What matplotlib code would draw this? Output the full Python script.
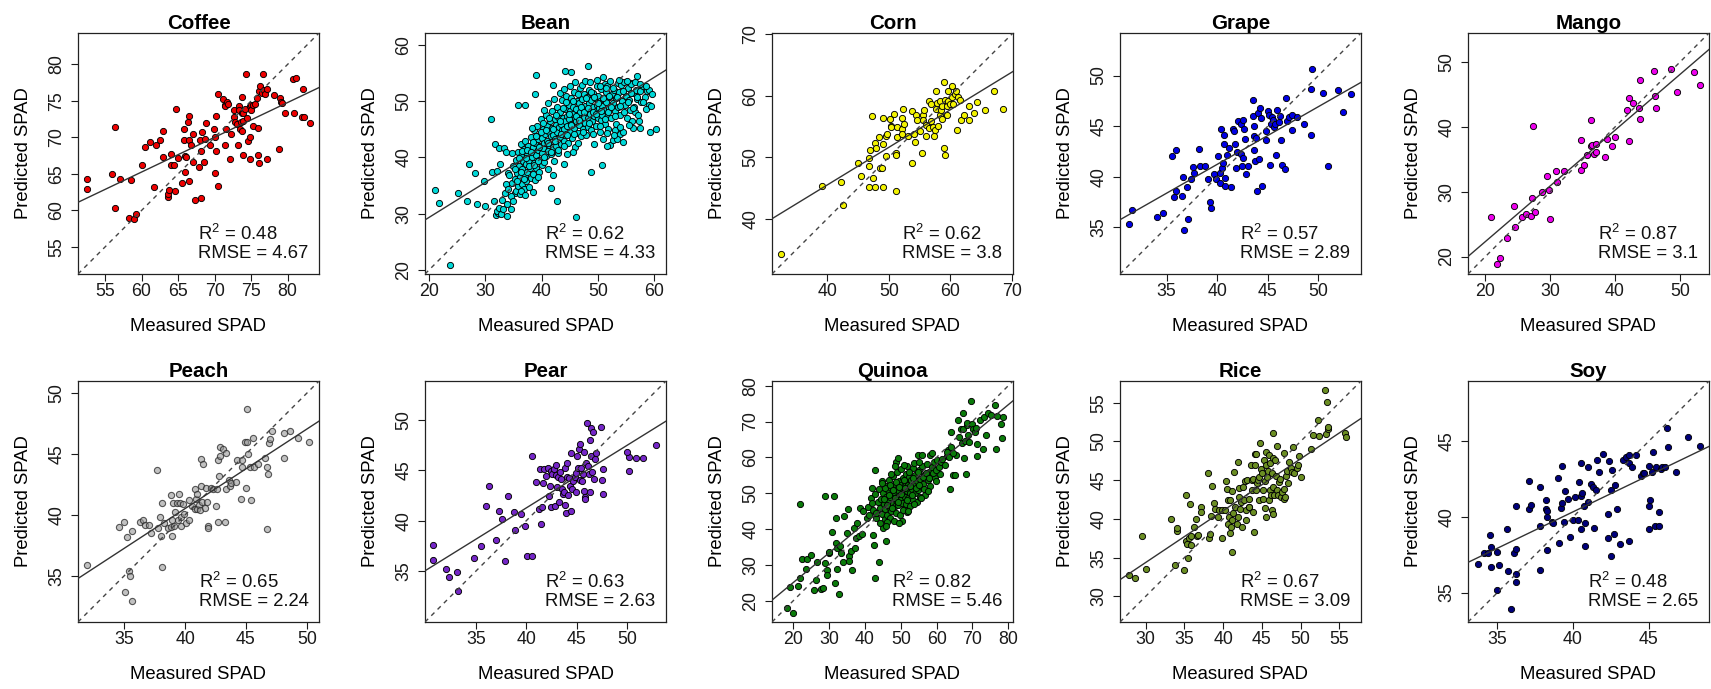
import numpy as np
import matplotlib.pyplot as plt

plt.rcParams['font.family'] = ['Liberation Sans', 'DejaVu Sans']
plt.rcParams['mathtext.fontset'] = 'custom'
plt.rcParams['mathtext.rm'] = 'Liberation Sans'
plt.rcParams['mathtext.it'] = 'Liberation Sans:italic'

# --- data (measured, predicted) ---
crops = ['Coffee', 'Bean', 'Corn', 'Grape', 'Mango',
         'Peach', 'Pear', 'Quinoa', 'Rice', 'Soy']

coffee_pts = [
    (52.5, 64.3), (52.6, 63.0), (55.9, 65.0), (56.4, 71.4), (56.4, 60.3), (57.0, 64.3), (58.3, 59.0),
    (58.6, 64.2), (59.0, 58.8), (59.3, 59.5), (60.0, 66.2), (60.5, 68.7), (61.2, 69.4), (61.7, 63.2),
    (62.0, 68.9), (62.5, 69.7), (62.9, 67.3), (63.0, 70.9), (63.6, 61.8), (63.6, 62.3), (63.7, 62.8),
    (64.0, 67.7), (64.1, 66.2), (64.4, 66.2), (64.6, 62.6), (64.7, 73.9), (65.0, 67.2), (65.5, 63.8),
    (65.8, 71.2), (65.8, 69.7), (66.0, 67.5), (66.0, 65.2), (66.1, 67.3), (66.4, 72.1), (66.5, 72.9),
    (66.5, 69.6), (66.5, 64.0), (66.8, 68.9), (67.0, 70.5), (67.1, 66.7), (67.3, 61.4), (67.8, 65.9),
    (68.0, 69.7), (68.1, 61.7), (68.1, 68.1), (68.3, 70.7), (68.5, 66.6), (68.7, 69.8), (68.8, 72.0),
    (69.4, 69.0), (69.9, 71.2), (70.0, 65.1), (70.1, 70.1), (70.2, 68.1), (70.2, 72.9), (70.5, 63.3),
    (70.5, 76.0), (71.1, 75.3), (71.4, 74.5), (71.4, 74.3), (71.4, 69.0), (71.6, 71.2), (71.7, 74.8),
    (71.9, 74.6), (72.1, 67.0), (72.2, 70.5), (72.6, 73.8), (72.7, 72.8), (72.8, 72.1), (73.1, 71.9),
    (73.2, 69.0), (73.3, 74.3), (73.3, 73.8), (73.5, 71.1), (73.6, 72.1), (73.7, 70.9), (73.7, 73.3),
    (73.8, 75.5), (73.9, 67.6), (73.9, 73.3), (73.9, 72.2), (74.2, 73.9), (74.3, 78.7), (74.4, 72.7),
    (74.6, 69.5), (74.8, 67.0), (74.9, 74.3), (74.9, 70.1), (75.0, 74.5), (75.0, 73.8), (75.2, 71.5),
    (75.3, 74.5), (75.6, 74.6), (75.8, 75.4), (75.9, 71.3), (76.0, 67.6), (76.1, 76.3), (76.1, 66.5),
    (76.2, 77.1), (76.5, 76.1), (76.7, 78.7), (76.8, 76.5), (76.9, 76.0), (77.2, 76.6), (77.2, 67.1),
    (78.1, 75.8), (78.8, 68.4), (78.9, 75.4), (79.1, 74.9), (79.2, 74.7), (79.7, 73.4), (80.8, 78.0),
    (80.9, 73.3), (81.1, 78.1), (82.0, 72.8), (82.1, 76.7), (82.3, 72.8), (83.0, 72.0)]

bean_pts = [
    (21.1, 34.2), (21.7, 31.9), (23.7, 20.9), (25.2, 33.6), (26.8, 32.3), (27.1, 38.8), (28.1, 37.3),
    (28.6, 31.8), (29.8, 35.8), (30.0, 31.3), (31.1, 46.9), (31.2, 37.5), (31.6, 32.3), (31.7, 42.3),
    (32.0, 37.6), (32.4, 41.7), (32.6, 38.9), (33.3, 41.6), (33.7, 40.9), (34.0, 37.3), (34.7, 40.7),
    (35.2, 33.7), (35.9, 49.3), (37.1, 49.3), (38.4, 33.9), (38.9, 51.2), (39.1, 54.7), (41.7, 34.5),
    (42.1, 52.8), (42.8, 32.3), (44.1, 55.4), (45.3, 55.2), (46.1, 29.5), (48.2, 56.3), (48.8, 37.5),
    (50.8, 38.7), (60.3, 45.0), (59.3, 44.5), (59.1, 49.3), (58.7, 51.8), (57.5, 45.3), (56.2, 45.3),
    (56.6, 48.0), (57.0, 54.4), (55.8, 53.3), (54.4, 42.8), (54.0, 44.2), (53.0, 44.9), (52.2, 42.2),
    (52.6, 43.1), (51.7, 42.0), (53.4, 43.3), (31.9, 29.7), (32.3, 30.2), (32.7, 30.7),
    (32.1, 30.5), (32.4, 31.0), (32.8, 29.9), (33.0, 32.5), (33.2, 30.8), (33.5, 33.6), (33.6, 35.2),
    (33.9, 31.8), (34.1, 34.4), (34.3, 36.8), (34.5, 33.1), (34.7, 35.5), (34.9, 38.5), (35.0, 32.2),
    (35.2, 36.1), (35.4, 34.0), (35.5, 39.6), (35.7, 37.2), (35.8, 35.0), (35.9, 41.0), (36.0, 38.4),
    (36.1, 33.5), (36.2, 36.6), (36.3, 40.2), (36.4, 42.4), (36.5, 35.2), (36.6, 38.0), (36.7, 39.4),
    (36.8, 34.4), (36.9, 41.5), (37.0, 36.9), (37.1, 43.0), (37.2, 38.8), (37.3, 35.8), (37.4, 40.5),
    (37.5, 37.5), (37.6, 42.0), (37.7, 39.3), (37.8, 34.8), (37.9, 41.2), (38.0, 38.1), (38.1, 36.4),
    (38.2, 43.6), (38.3, 40.0), (38.4, 37.0), (38.5, 41.8), (38.6, 39.0), (38.7, 44.8), (38.8, 36.0),
    (38.9, 42.6), (39.0, 40.4), (39.1, 38.2), (39.2, 45.6), (39.3, 41.4), (39.4, 43.2), (39.5, 37.4),
    (39.6, 39.6), (39.7, 44.0), (39.8, 42.0), (39.9, 46.8), (40.0, 40.8), (40.0, 38.6),
    (40.1, 43.4), (40.2, 41.6), (40.3, 45.0), (40.4, 39.2), (40.5, 42.6), (40.6, 44.2), (40.7, 47.6),
    (40.8, 40.2), (40.9, 43.0), (41.0, 45.6), (41.1, 41.2), (41.2, 38.0), (41.3, 44.6), (41.4, 42.2),
    (41.5, 46.4), (41.6, 40.6), (41.7, 43.8), (41.8, 48.2), (41.9, 45.2), (42.0, 41.8), (42.1, 44.0),
    (42.2, 39.4), (42.3, 46.8), (42.4, 43.2), (42.5, 45.8), (42.6, 42.0), (42.7, 49.0), (42.8, 44.6),
    (42.9, 47.2), (43.0, 40.8), (43.1, 45.4), (43.2, 43.6), (43.3, 48.0), (43.4, 46.0), (43.5, 42.4),
    (43.6, 44.8), (43.7, 50.2), (43.8, 47.0), (43.9, 45.0), (44.0, 38.8), (44.0, 43.0),
    (44.1, 46.4), (44.2, 48.6), (44.3, 44.2), (44.4, 51.0), (44.5, 47.4), (44.6, 45.6), (44.7, 42.6),
    (44.8, 49.4), (44.9, 46.8), (45.0, 44.6), (45.1, 48.2), (45.2, 50.6), (45.3, 46.0), (45.4, 43.4),
    (45.5, 47.8), (45.6, 49.0), (45.7, 45.2), (45.8, 51.6), (45.9, 47.0), (46.0, 41.8), (46.1, 48.6),
    (46.2, 46.4), (46.3, 50.0), (46.4, 44.4), (46.5, 47.6), (46.6, 49.6), (46.7, 45.8), (46.8, 52.4),
    (46.9, 48.0), (47.0, 43.8), (47.1, 46.8), (47.2, 50.4), (47.3, 48.8), (47.4, 45.0), (47.5, 47.2),
    (47.6, 51.2), (47.7, 49.2), (47.8, 46.2), (47.9, 44.0), (48.0, 48.4),
    (48.1, 50.8), (48.2, 47.0), (48.3, 45.4), (48.4, 49.6), (48.5, 52.0), (48.6, 47.8), (48.7, 44.8),
    (48.8, 50.2), (48.9, 48.6), (49.0, 46.4), (49.1, 51.4), (49.2, 49.0), (49.3, 42.4), (49.4, 47.4),
    (49.5, 50.6), (49.6, 48.2), (49.7, 45.6), (49.8, 52.6), (49.9, 49.4), (50.0, 47.0), (50.1, 51.0),
    (50.2, 48.8), (50.3, 44.6), (50.4, 50.0), (50.5, 46.6), (50.6, 52.2), (50.7, 49.2), (50.8, 47.6),
    (50.9, 43.2), (51.0, 50.4), (51.1, 48.4), (51.2, 53.0), (51.3, 46.0), (51.4, 51.6), (51.5, 49.8),
    (51.6, 47.2), (51.7, 52.6), (51.8, 45.0), (51.9, 50.8), (52.0, 48.8),
    (52.2, 53.6), (52.3, 47.0), (52.5, 51.2), (52.6, 49.6), (52.8, 44.0), (52.9, 52.0), (53.0, 48.2),
    (53.2, 50.6), (53.3, 46.0), (53.5, 53.2), (53.6, 49.0), (53.8, 51.6), (54.0, 47.6), (54.1, 52.8),
    (54.3, 50.0), (54.5, 44.6), (54.6, 53.4), (54.8, 49.4), (55.0, 51.0), (55.1, 47.0), (55.3, 52.4),
    (55.5, 50.2), (55.7, 48.4), (55.9, 53.0), (56.1, 46.4), (56.3, 51.4), (56.5, 49.0), (56.7, 52.0),
    (56.9, 50.4), (57.2, 47.6), (57.4, 51.8), (57.7, 49.8), (58.0, 52.6), (58.3, 50.8), (58.6, 48.6),
    (59.0, 52.0), (59.4, 49.2), (59.7, 51.2),
    (35.3, 37.9), (35.6, 35.8), (36.0, 39.9), (36.3, 37.4), (36.6, 41.1), (36.9, 36.2), (37.2, 39.9),
    (37.5, 41.4), (37.8, 38.4), (38.1, 40.9), (38.4, 42.8), (38.7, 38.6), (39.0, 43.8), (39.3, 39.4),
    (39.6, 41.8), (39.9, 44.6), (36.4, 34.0), (37.0, 33.4), (34.6, 30.9), (33.8, 29.6), (38.3, 45.2),
    (39.4, 36.6), (40.2, 46.2), (40.5, 40.0), (40.8, 44.8), (41.1, 42.6), (41.4, 47.0), (41.7, 41.0),
    (42.0, 45.0), (42.3, 43.0), (42.6, 47.6), (42.9, 41.4), (43.2, 46.4), (43.5, 44.2), (43.8, 48.8),
    (44.0, 42.0), (40.4, 48.4), (41.2, 49.6), (42.2, 50.4), (43.3, 51.4), (43.9, 52.2), (42.0, 36.8),
    (44.3, 49.8), (44.6, 44.0), (44.9, 47.8), (45.2, 45.8), (45.5, 50.0), (45.8, 44.2), (46.1, 47.4),
    (46.4, 51.2), (46.7, 46.6), (47.0, 49.0), (47.3, 44.6), (47.6, 48.0), (47.9, 50.6), (45.0, 52.6),
    (46.0, 53.4), (47.2, 52.8), (44.5, 40.6), (46.5, 42.6), (47.7, 53.6), (45.6, 41.0),
    (48.2, 48.8), (48.5, 46.2), (48.8, 51.6), (49.1, 48.0), (49.4, 50.8), (49.7, 47.8), (50.0, 49.6),
    (50.3, 52.6), (50.6, 48.2), (50.9, 50.6), (51.2, 46.8), (51.5, 52.4), (51.8, 48.0), (48.6, 53.4),
    (49.8, 53.8), (51.0, 54.2), (49.2, 44.2), (50.4, 45.6), (51.6, 44.4), (52.0, 51.0),
    (52.4, 49.0), (52.7, 52.4), (53.1, 47.4), (53.4, 50.8), (53.7, 53.8), (54.0, 49.2), (54.4, 51.8),
    (54.7, 48.0), (55.1, 53.6), (55.4, 49.8), (55.8, 51.4), (56.2, 48.8), (56.6, 53.4), (57.0, 50.8),
    (57.5, 53.0), (58.0, 49.8), (58.5, 52.6), (53.9, 45.4), (55.6, 45.8), (57.3, 46.4)]

corn_pts = [
    (32.5, 34.2), (39.2, 45.3), (42.2, 45.9), (42.6, 42.3), (45.0, 49.1), (45.4, 47.0), (46.8, 48.5),
    (46.8, 49.9), (46.8, 45.1), (46.9, 51.2), (47.2, 56.7), (47.5, 46.6), (47.7, 52.3), (47.8, 45.1),
    (47.9, 51.5), (48.4, 53.3), (48.6, 48.2), (48.9, 48.2), (49.1, 56.4), (49.1, 52.2), (49.1, 45.2),
    (49.5, 50.2), (49.6, 53.4), (49.7, 53.7), (50.2, 56.2), (50.3, 55.1), (50.4, 54.9), (50.9, 57.1),
    (51.1, 50.7), (51.1, 50.3), (51.2, 44.5), (51.3, 53.3), (51.4, 54.9), (52.1, 56.4), (52.2, 54.6),
    (52.2, 53.8), (52.3, 57.8), (52.4, 55.4), (53.2, 53.4), (53.7, 57.5), (53.8, 49.1), (54.1, 53.8),
    (54.3, 52.4), (54.5, 56.8), (54.6, 56.1), (55.1, 54.2), (55.4, 50.7), (55.5, 56.8), (55.6, 56.0),
    (55.7, 57.6), (56.0, 53.4), (56.1, 55.2), (56.5, 59.2), (56.6, 54.8), (56.8, 58.7), (56.9, 55.9),
    (57.2, 54.9), (57.3, 53.4), (57.5, 54.4), (57.6, 57.9), (57.7, 60.7), (57.8, 58.8), (58.0, 55.0),
    (58.3, 56.8), (58.4, 59.1), (58.5, 57.6), (58.6, 56.2), (58.7, 58.3), (58.9, 62.2), (58.9, 51.5),
    (59.1, 59.3), (59.2, 50.3), (59.4, 58.3), (59.5, 56.8), (59.6, 59.1), (59.7, 60.7), (59.9, 58.7),
    (60.2, 59.8), (60.3, 61.5), (60.5, 58.6), (60.7, 60.3), (60.9, 60.8), (61.1, 54.5), (61.2, 59.8),
    (61.5, 59.3), (61.7, 56.1), (62.3, 56.9), (63.0, 58.3), (63.1, 56.1), (63.8, 57.2), (64.3, 59.0),
    (65.6, 57.7), (67.1, 60.8), (68.6, 57.8)]

grape_pts = [
    (31.3, 35.3), (31.6, 36.7), (34.1, 36.0), (34.6, 36.4), (35.5, 42.1), (35.9, 42.6), (35.7, 38.0),
    (35.9, 38.6), (36.5, 38.1), (36.6, 40.0), (36.7, 34.7), (37.0, 39.0), (37.1, 35.8), (37.4, 39.8),
    (37.6, 41.0), (37.7, 40.4), (38.2, 42.7), (38.3, 41.1), (38.8, 41.1), (39.1, 39.8), (39.3, 37.5),
    (39.4, 36.9), (39.7, 40.3), (39.9, 39.8), (40.1, 42.1), (40.3, 39.4), (40.3, 40.4), (40.4, 44.7),
    (40.5, 40.9), (40.6, 41.4), (40.7, 43.2), (40.7, 44.1), (40.8, 39.9), (40.8, 39.1), (41.0, 42.2),
    (41.2, 42.8), (41.4, 39.0), (41.6, 44.7), (41.7, 44.5), (41.8, 43.2), (41.9, 40.9), (42.0, 42.4),
    (42.1, 45.5), (42.3, 42.3), (42.3, 45.2), (42.4, 41.1), (42.5, 41.9), (42.5, 45.6), (42.6, 44.7),
    (42.7, 43.7), (42.8, 40.3), (43.0, 41.1), (43.5, 47.6), (43.5, 46.0), (43.6, 44.0), (43.6, 45.0),
    (43.6, 42.6), (43.7, 41.6), (43.8, 43.8), (43.9, 38.6), (44.0, 46.3), (44.1, 41.8), (44.2, 46.8),
    (44.3, 45.8), (44.4, 39.1), (44.8, 43.6), (44.8, 44.5), (45.0, 46.5), (45.1, 46.1), (45.2, 41.2),
    (45.3, 45.2), (45.4, 45.9), (45.5, 45.6), (45.6, 44.9), (45.7, 45.2), (45.8, 42.2), (45.9, 46.6),
    (46.1, 45.4), (46.2, 46.0), (46.3, 43.6), (46.4, 41.2), (46.7, 40.8), (46.8, 47.8), (46.9, 45.5),
    (47.1, 45.9), (47.4, 44.6), (47.4, 46.1), (47.9, 45.9), (48.6, 45.2), (49.3, 48.7), (49.3, 44.1),
    (49.4, 50.6), (50.4, 48.3), (50.9, 41.1), (51.9, 48.6), (52.4, 46.4), (53.2, 48.2)]

mango_pts = [
    (20.8, 26.1), (21.7, 18.8), (22.3, 19.8), (23.3, 22.9), (24.4, 27.8), (24.6, 24.5), (25.6, 26.1),
    (26.3, 26.6), (27.1, 26.3), (27.2, 29.1), (27.3, 40.1), (27.6, 26.9), (28.7, 30.0), (29.5, 32.5),
    (29.8, 30.3), (29.9, 25.8), (30.9, 33.2), (31.1, 31.5), (32.1, 33.2), (34.8, 38.0), (34.8, 33.3),
    (35.2, 34.2), (35.6, 35.6), (36.3, 41.1), (36.3, 37.1), (36.5, 37.2), (36.7, 35.9), (37.1, 37.4),
    (37.1, 36.2), (38.4, 35.3), (38.7, 38.2), (39.5, 37.0), (40.0, 38.4), (41.9, 42.6), (42.1, 44.4),
    (42.1, 37.8), (42.7, 43.7), (43.7, 42.9), (43.8, 47.3), (43.9, 41.2), (46.0, 48.6), (46.1, 44.8),
    (46.3, 43.0), (48.7, 49.0), (49.6, 45.4), (52.2, 48.5), (53.1, 46.4)]

peach_pts = [
    (31.9, 35.9), (34.6, 39.0), (35.0, 39.4), (35.1, 33.7), (35.2, 38.2), (35.4, 35.4), (35.5, 35.0),
    (35.6, 32.9), (35.6, 38.7), (36.3, 39.4), (36.5, 39.6), (36.7, 39.2), (37.0, 39.2), (37.2, 38.5),
    (37.7, 43.7), (37.8, 38.9), (37.9, 39.8), (38.0, 38.3), (38.1, 35.7), (38.1, 41.0), (38.3, 39.3),
    (38.6, 38.9), (38.8, 39.0), (38.8, 41.6), (38.9, 39.6), (38.9, 38.3), (39.0, 41.0), (39.1, 39.1),
    (39.2, 40.2), (39.3, 41.0), (39.4, 39.6), (39.5, 41.7), (39.6, 41.0), (39.7, 39.8), (39.7, 39.1),
    (39.8, 40.9), (39.9, 40.1), (40.1, 39.3), (40.3, 39.6), (40.3, 41.2), (40.6, 40.7), (40.8, 40.5),
    (40.8, 42.1), (40.9, 41.3), (41.0, 41.7), (41.0, 40.5), (41.1, 40.8), (41.2, 40.4), (41.3, 42.4),
    (41.3, 44.6), (41.4, 41.1), (41.5, 44.2), (41.6, 40.6), (41.7, 42.2), (41.8, 41.1), (41.9, 39.1),
    (41.9, 38.9), (42.1, 42.2), (42.3, 42.1), (42.5, 40.7), (42.6, 42.1), (42.7, 44.5), (42.7, 39.4),
    (42.8, 43.2), (42.9, 44.8), (42.9, 45.6), (43.1, 45.4), (43.3, 39.4), (43.4, 42.1), (43.4, 45.1),
    (43.6, 42.9), (43.7, 42.4), (43.8, 42.6), (44.2, 42.7), (44.3, 44.5), (44.6, 41.3), (44.7, 44.5),
    (44.7, 43.9), (44.9, 46.0), (45.0, 42.2), (45.1, 46.0), (45.1, 48.7), (45.2, 45.0), (45.3, 43.9),
    (45.4, 41.2), (45.6, 46.3), (45.7, 43.9), (46.0, 44.2), (46.6, 44.7), (46.7, 38.8), (46.7, 43.9),
    (46.8, 43.4), (46.9, 45.9), (47.0, 46.2), (47.1, 46.9), (48.1, 46.7), (48.1, 44.7), (48.6, 46.9),
    (49.3, 46.3), (50.2, 46.0)]

pear_pts = [
    (30.7, 37.6), (30.7, 36.1), (32.0, 35.2), (32.3, 34.4), (33.1, 34.9), (33.2, 33.0), (34.8, 36.3),
    (35.5, 37.5), (36.0, 41.5), (36.3, 43.4), (37.0, 38.1), (37.3, 41.0), (37.6, 40.2), (37.9, 36.0),
    (38.2, 42.4), (38.8, 40.9), (38.9, 39.1), (39.5, 40.7), (39.9, 39.5), (40.1, 36.5), (40.6, 36.5),
    (40.6, 46.4), (41.0, 43.8), (41.3, 41.2), (41.4, 45.1), (41.5, 39.7), (41.6, 41.4), (41.7, 43.7),
    (41.8, 45.1), (41.9, 44.4), (42.1, 45.2), (42.2, 42.4), (42.3, 43.4), (42.4, 41.4), (42.4, 44.9),
    (42.5, 44.6), (42.7, 45.1), (42.8, 41.5), (42.9, 44.5), (42.9, 45.5), (43.0, 43.3), (43.1, 44.3),
    (43.2, 41.9), (43.3, 44.8), (43.4, 44.1), (43.5, 43.1), (43.6, 42.6), (43.7, 42.8), (43.8, 45.2),
    (43.8, 41.6), (43.9, 40.8), (44.0, 45.7), (44.0, 44.3), (44.1, 42.5), (44.2, 44.2), (44.3, 43.4),
    (44.4, 46.7), (44.4, 41.0), (44.5, 43.1), (44.6, 43.9), (44.8, 44.3), (44.9, 42.8), (44.9, 44.7),
    (45.0, 46.4), (45.1, 45.2), (45.2, 47.1), (45.3, 44.0), (45.3, 47.6), (45.4, 45.2), (45.5, 43.9),
    (45.6, 44.6), (45.7, 46.8), (45.7, 42.9), (45.8, 42.3), (45.8, 42.1), (45.9, 45.7), (46.0, 49.7),
    (46.1, 45.4), (46.2, 44.6), (46.3, 48.0), (46.3, 42.8), (46.4, 49.2), (46.4, 46.4), (46.5, 44.8),
    (46.6, 48.8), (46.7, 44.1), (46.8, 46.1), (46.9, 46.7), (47.4, 49.3), (47.5, 44.0), (47.6, 42.6),
    (47.6, 45.1), (50.2, 46.3), (50.2, 44.9), (50.0, 46.8), (50.9, 46.2), (51.6, 46.2), (52.9, 47.5)]

quinoa_pts = [
    (18.3, 18.0), (20.0, 16.6), (19.1, 23.9), (21.4, 24.2), (21.9, 47.1), (22.0, 26.5), (22.4, 31.8),
    (23.9, 31.8), (23.5, 28.8), (24.9, 32.8), (25.8, 23.0), (26.5, 25.8), (26.7, 30.9), (27.9, 23.2),
    (28.4, 23.5), (28.8, 49.3), (28.8, 30.5), (29.3, 28.6), (29.5, 27.1), (29.9, 33.3), (30.0, 33.5),
    (30.9, 39.3), (31.3, 49.2), (31.6, 25.0), (31.9, 36.1), (31.9, 43.1), (32.1, 28.8), (32.3, 34.6),
    (32.8, 21.9), (33.2, 35.3), (33.3, 33.3), (33.8, 30.9), (34.1, 43.7), (34.9, 38.9), (35.3, 45.6),
    (35.6, 32.5), (35.6, 31.2), (36.0, 34.0), (36.3, 28.6), (36.9, 40.2), (37.2, 34.7), (37.5, 37.5),
    (37.9, 41.7), (38.4, 38.1), (38.6, 45.9), (39.1, 38.7), (39.5, 45.0), (40.5, 43.1), (41.6, 48.7),
    (41.9, 51.5), (42.3, 38.4), (42.5, 35.6), (42.8, 56.4), (42.8, 26.3), (43.3, 44.5), (44.0, 30.7),
    (44.7, 53.4), (45.0, 40.3), (46.0, 36.7), (48.8, 58.7), (49.3, 59.9), (50.4, 42.4), (51.8, 57.6),
    (54.9, 60.8), (56.0, 60.8), (58.1, 60.6), (58.6, 61.3), (59.5, 54.3), (59.7, 53.4), (60.9, 55.5),
    (62.8, 60.4), (63.3, 62.1), (63.7, 51.3), (64.0, 67.1), (64.5, 55.0), (65.1, 55.0), (65.4, 60.6),
    (66.0, 70.4), (66.3, 65.8), (66.7, 68.0), (67.0, 64.1), (67.3, 72.5), (67.4, 68.0), (67.7, 59.9),
    (67.9, 64.6), (68.2, 55.5), (68.4, 69.0), (68.6, 69.7), (68.8, 66.2), (69.1, 64.3), (69.5, 75.8),
    (69.8, 69.3), (70.2, 68.0), (70.7, 67.1), (71.0, 68.3), (71.2, 63.6), (71.2, 60.4), (72.1, 70.4),
    (72.8, 62.2), (73.3, 71.4), (73.7, 66.2), (74.4, 72.5), (75.3, 71.8), (76.3, 74.6), (76.6, 62.2),
    (76.9, 71.6), (77.9, 69.3), (78.1, 65.5), (78.6, 71.4),
    (40.8, 46.2), (41.2, 44.0), (41.9, 47.4), (42.4, 45.2), (42.8, 49.8), (43.2, 43.0), (43.6, 47.6),
    (44.0, 51.2), (43.0, 44.4), (44.3, 41.6),
    (44.2, 46.0), (44.6, 48.5), (44.9, 44.2), (45.1, 50.2), (45.3, 47.1), (45.5, 42.8), (45.7, 45.6),
    (45.9, 52.0), (46.0, 49.0), (46.2, 44.0), (46.4, 47.8), (46.5, 50.8), (46.7, 46.2), (46.8, 53.6),
    (47.0, 43.2), (47.1, 48.9), (47.3, 51.6), (47.4, 45.0), (47.6, 49.8), (47.7, 47.0), (47.9, 54.8),
    (48.0, 42.2), (48.1, 50.4), (48.3, 46.4), (48.4, 52.6), (48.6, 48.0), (48.7, 44.6), (48.9, 51.2),
    (49.0, 55.9), (49.1, 49.2), (49.3, 46.8), (49.4, 53.4), (49.6, 50.6), (49.7, 43.8), (49.9, 48.2),
    (50.0, 52.2), (50.2, 56.8), (50.3, 47.4), (50.5, 50.0), (50.6, 54.2), (50.8, 45.6), (50.9, 51.8),
    (51.1, 49.0), (51.2, 53.0), (51.4, 47.0), (51.5, 55.4), (51.7, 50.6), (51.8, 44.8), (52.0, 52.4),
    (52.1, 48.6), (52.3, 54.6), (52.5, 50.2), (52.7, 46.4), (52.9, 53.6), (53.1, 51.2), (53.3, 57.0),
    (53.5, 48.2), (53.7, 52.8), (53.9, 50.0), (54.1, 55.2), (54.4, 47.6), (54.6, 53.4), (54.8, 51.0),
    (55.0, 56.4), (55.3, 49.0), (55.5, 54.0), (55.8, 51.8), (56.0, 57.6), (56.3, 52.6), (56.6, 55.0),
    (56.9, 49.6), (57.2, 58.2), (57.5, 53.8), (57.8, 56.0), (58.2, 52.0), (58.6, 57.4), (59.0, 55.6),
    (59.4, 58.8), (59.8, 56.6), (60.2, 59.4), (60.6, 57.2), (61.2, 58.6), (61.6, 59.6), (62.2, 58.0),
    (62.8, 61.4), (63.4, 60.2), (64.0, 62.8), (64.6, 61.2),
    (45.2, 48.4), (45.6, 51.4), (46.1, 46.8), (46.6, 49.4), (47.0, 52.2), (47.5, 46.0), (47.9, 50.8),
    (48.3, 48.6), (48.8, 53.2), (49.2, 47.6), (49.6, 51.8), (50.1, 49.8), (50.5, 45.2), (50.9, 53.8),
    (51.3, 51.4), (51.7, 48.2), (52.2, 55.8), (52.6, 52.0), (53.0, 49.4), (53.4, 54.2), (53.8, 47.0),
    (54.3, 51.6), (54.7, 55.8), (55.2, 52.2), (55.6, 48.6), (56.1, 54.6), (56.5, 51.2), (57.0, 55.6),
    (57.5, 50.6), (58.0, 54.2), (46.3, 42.0), (47.2, 55.4), (48.5, 57.6), (51.0, 57.8), (44.8, 52.8),
    (46.0, 40.8), (52.0, 45.0), (53.6, 58.4), (55.0, 58.6), (49.5, 41.6)]

rice_pts = [
    (27.8, 32.8), (28.6, 32.4), (29.5, 37.8), (30.0, 33.5), (33.3, 40.0), (33.8, 34.0), (34.0, 38.4),
    (34.0, 38.8), (34.9, 33.4), (35.2, 43.1), (35.2, 37.2), (35.3, 36.8), (35.5, 34.9), (35.6, 37.5),
    (35.7, 41.9), (35.8, 36.6), (35.9, 37.8), (36.3, 39.0), (36.5, 40.0), (36.6, 37.8), (36.8, 37.9),
    (37.2, 41.6), (37.2, 40.9), (38.1, 45.9), (38.2, 37.6), (38.3, 38.1), (38.5, 40.4), (38.6, 44.2),
    (38.8, 42.1), (39.0, 41.3), (39.3, 40.3), (39.5, 41.1), (39.8, 41.1), (39.9, 37.5), (40.2, 41.1),
    (40.4, 44.9), (40.5, 43.8), (40.6, 42.4), (40.6, 39.3), (40.8, 40.2), (40.9, 42.4), (40.9, 38.2),
    (41.0, 38.9), (41.1, 35.7), (41.1, 43.6), (41.2, 39.8), (41.3, 40.8), (41.4, 46.0), (41.6, 41.6),
    (41.8, 39.3), (41.9, 40.3), (41.9, 47.3), (42.0, 42.8), (42.1, 44.0), (42.2, 41.3), (42.3, 42.2),
    (42.5, 39.0), (42.6, 44.1), (42.7, 42.5), (42.8, 44.9), (42.9, 41.1), (43.0, 39.9), (43.1, 45.0),
    (43.3, 41.6), (43.4, 42.6), (43.4, 41.6), (43.6, 46.9), (43.7, 45.0), (43.7, 43.7), (43.8, 40.9),
    (43.9, 45.2), (44.0, 38.3), (44.1, 48.4), (44.1, 46.9), (44.2, 48.4), (44.3, 43.7), (44.4, 44.6),
    (44.5, 45.0), (44.7, 42.4), (44.7, 45.4), (44.8, 49.8), (44.9, 46.4), (45.0, 45.9), (45.1, 43.7),
    (45.2, 42.6), (45.3, 47.6), (45.4, 44.9), (45.4, 41.4), (45.5, 40.3), (45.6, 46.9), (45.6, 48.7),
    (45.7, 45.4), (45.8, 46.2), (45.9, 42.4), (45.9, 48.2), (46.0, 43.7), (46.1, 47.2), (46.2, 43.1),
    (46.3, 41.2), (46.3, 45.9), (46.4, 47.8), (46.4, 40.6), (46.5, 51.1), (46.5, 44.1), (46.6, 43.1),
    (46.7, 47.6), (46.8, 45.5), (46.9, 43.7), (47.0, 49.4), (47.1, 43.1), (47.2, 44.8), (47.3, 45.2),
    (47.5, 42.8), (47.6, 43.5), (47.8, 48.5), (47.8, 42.6), (47.9, 43.8), (48.0, 42.8), (48.1, 45.6),
    (48.2, 46.2), (48.4, 44.6), (48.5, 47.4), (48.8, 46.6), (48.9, 46.1), (49.0, 49.3), (49.2, 45.9),
    (49.5, 46.6), (49.7, 46.9), (49.8, 48.1), (50.0, 45.4), (51.3, 49.0), (51.6, 50.8), (52.2, 52.8),
    (52.4, 50.7), (53.1, 56.6), (53.3, 51.0), (53.4, 55.1), (53.5, 51.6), (53.6, 51.8), (55.7, 51.1),
    (55.9, 50.6)]

soy_pts = [
    (33.7, 36.9), (34.1, 37.6), (34.4, 37.6), (34.5, 38.8), (34.6, 38.0), (34.6, 36.7), (34.96, 35.2),
    (35.0, 37.7), (35.1, 36.8), (35.6, 39.2), (35.7, 36.4), (35.9, 33.9), (36.1, 37.6), (36.2, 37.9),
    (36.2, 40.7), (36.2, 36.2), (36.2, 35.7), (37.1, 42.4), (37.1, 40.5), (37.2, 40.8), (37.8, 36.5),
    (37.8, 42.0), (37.8, 39.4), (38.2, 41.1), (38.2, 40.5), (38.3, 40.4), (38.3, 40.0), (38.3, 37.8),
    (38.6, 39.7), (38.7, 39.6), (39.0, 42.6), (39.1, 38.3), (39.2, 40.6), (39.3, 40.9), (39.3, 43.4),
    (39.4, 39.7), (39.5, 41.7), (39.7, 41.2), (39.8, 38.7), (40.0, 39.8), (40.1, 41.3), (40.3, 39.8),
    (40.4, 42.3), (40.5, 41.4), (40.5, 43.6), (40.5, 39.2), (40.6, 41.6), (40.7, 40.7), (40.8, 39.6),
    (40.8, 38.1), (41.0, 41.0), (41.0, 43.3), (41.2, 42.2), (41.3, 42.0), (41.4, 39.3), (41.5, 41.8),
    (41.6, 43.8), (41.7, 43.0), (42.0, 44.2), (42.3, 38.6), (42.3, 40.2), (42.4, 43.7), (42.5, 41.8),
    (42.5, 37.4), (42.6, 43.1), (42.7, 38.9), (42.8, 42.1), (42.9, 40.5), (43.1, 38.2), (43.3, 43.8),
    (43.5, 44.0), (43.7, 44.1), (43.7, 43.6), (43.7, 38.4), (43.9, 43.3), (44.2, 44.1), (44.5, 42.7),
    (44.6, 42.9), (44.7, 42.9), (45.0, 43.4), (45.0, 39.2), (45.0, 40.7), (45.1, 41.1), (45.2, 43.0),
    (45.3, 44.3), (45.4, 39.4), (45.5, 43.3), (45.7, 40.3), (45.7, 39.4), (45.8, 43.2), (45.9, 43.3),
    (46.1, 43.3), (46.2, 45.9), (46.3, 44.6), (46.8, 43.0), (47.6, 45.3), (48.4, 44.7)]

points = [coffee_pts, bean_pts, corn_pts, grape_pts, mango_pts,
          peach_pts, pear_pts, quinoa_pts, rice_pts, soy_pts]

# axis range (same for x and y) and tick values
lims = [(51.3, 84.3), (19.3, 62.1), (31.0, 70.2), (30.4, 54.2), (17.3, 54.5),
        (31.2, 51.0), (29.9, 53.9), (14.1, 81.3), (26.7, 57.8), (33.05, 49.0)]
ticks = [[55, 60, 65, 70, 75, 80], [20, 30, 40, 50, 60], [40, 50, 60, 70],
         [35, 40, 45, 50], [20, 30, 40, 50], [35, 40, 45, 50], [35, 40, 45, 50],
         [20, 30, 40, 50, 60, 70, 80], [30, 35, 40, 45, 50, 55], [35, 40, 45]]

# fitted line (intercept, slope) and stats
fit_intercept = [36.7, 16.9, 21.05, 18.43, 5.14, 14.4, 16.43, 8.54, 14.3, 21.1]
fit_slope = [0.476, 0.622, 0.611, 0.570, 0.859, 0.653, 0.621, 0.827, 0.669, 0.481]
r2 = ['0.48', '0.62', '0.62', '0.57', '0.87', '0.65', '0.63', '0.82', '0.67', '0.48']
rmse = ['4.67', '4.33', '3.8', '2.89', '3.1', '2.24', '2.63', '5.46', '3.09', '2.65']

fills = ['#ee0000', '#00d8d8', '#f2f200', '#0000e6', '#ee00ee',
         (0.6, 0.6, 0.6, 0.6), '#7526c8', '#0a7a0a', '#6b8e23', '#00007a']

W, H = 1711, 689
lefts = [78, 425, 772, 1120, 1468]
tops = [33, 381]
size = 241

fig = plt.figure(figsize=(W / 100, H / 100), dpi=100)

for i, name in enumerate(crops):
    row, col = divmod(i, 5)
    ax = fig.add_axes([lefts[col] / W, 1 - (tops[row] + size) / H, size / W, size / H])
    pts = np.array(points[i])
    lo, hi = lims[i]

    if name == 'Peach':
        ax.scatter(pts[:, 0], pts[:, 1], s=20, facecolor=fills[i],
                   edgecolor=(0.15, 0.15, 0.15, 0.75), linewidths=0.8, zorder=2)
    else:
        ax.scatter(pts[:, 0], pts[:, 1], s=20, facecolor=fills[i],
                   edgecolor='black', linewidths=0.65, zorder=2)

    xs = np.array([lo, hi])
    ax.plot(xs, xs, color='#444444', lw=1.0, dashes=(3.2, 3.2), zorder=3)
    ax.plot(xs, fit_intercept[i] + fit_slope[i] * xs, color='#333333', lw=1.0, zorder=3)

    ax.set_xlim(lo, hi)
    ax.set_ylim(lo, hi)
    ax.set_xticks(ticks[i])
    ax.set_yticks(ticks[i])
    ax.tick_params(direction='out', length=5, width=0.8, labelsize=12.8, colors='#1a1a1a')
    ax.tick_params(axis='x', pad=1.5)
    ax.tick_params(axis='y', pad=4, labelrotation=90)
    for lab in ax.get_yticklabels():
        lab.set_va('center')
    for sp in ax.spines.values():
        sp.set_linewidth(0.9)
        sp.set_color('#222222')

    ax.set_title(name, fontsize=14.8, fontweight='bold', pad=3)
    ax.set_xlabel('Measured SPAD', fontsize=13.3, labelpad=13)
    ax.set_ylabel('Predicted SPAD', fontsize=13.3, labelpad=12)

    ax.text(0.956, 0.05, 'R$^2$ = %s\nRMSE = %s' % (r2[i], rmse[i]),
            transform=ax.transAxes, ha='right', va='bottom', multialignment='left',
            fontsize=13.3, linespacing=1.05, color='#111111', zorder=4)

fig.savefig('out.png', dpi=100)
